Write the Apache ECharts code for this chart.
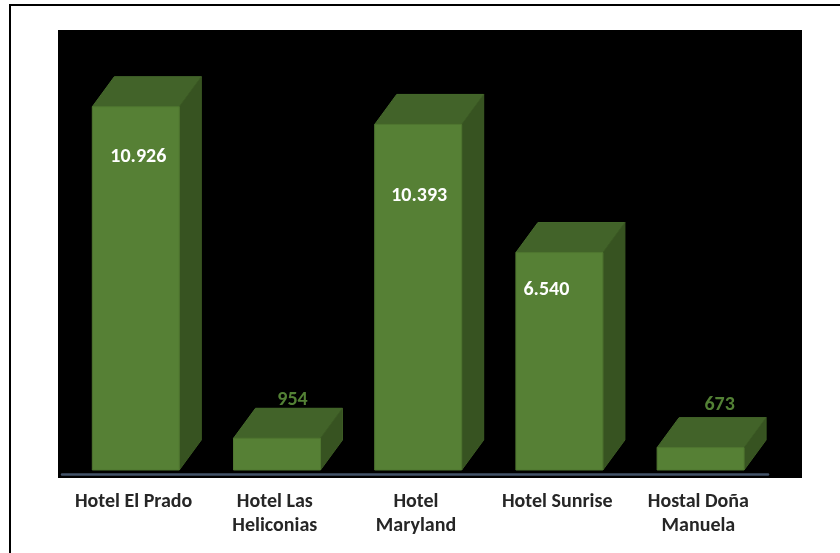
<!DOCTYPE html>
<html><head><meta charset="utf-8">
<style>html,body{margin:0;padding:0;background:#fff}#c{width:840px;height:553px}</style>
<script src="https://cdn.jsdelivr.net/npm/echarts@6/dist/echarts.min.js"></script>
</head><body><div id="c"></div>
<script>
const categories = ['Hotel El Prado', 'Hotel Las\nHeliconias', 'Hotel\nMaryland', 'Hotel Sunrise', 'Hostal Doña\nManuela'];
const values = [10926, 954, 10393, 6540, 673];
const labels = ['10.926', '954', '10.393', '6.540', '673'];
const labelDx = [2.5, 15.5, 1, -13, 19];
const labelDy = [50, -38, 72, 37, -43];
const FONT = 'Carlito, Lato, "Open Sans", "Noto Sans", sans-serif';
const chart = echarts.init(document.getElementById('c'), null, {renderer:'canvas'});
function renderItem(params, api){
  const i = api.value(0), v = api.value(1);
  const base = api.coord([i, 0]), top = api.coord([i, v]);
  const w = 87, dx = 22, dy = 30, off = 3.2;
  const l = base[0] + off - w/2, r = l + w, y0 = base[1], y1 = top[1];
  const big = v > 3000;
  return {type:'group', children:[
    {type:'polygon', shape:{points:[[l,y1],[l+dx,y1-dy],[r+dx,y1-dy],[r,y1]]}, style:{fill:'#426329', stroke:'#466a2c', lineWidth:1}},
    {type:'polygon', shape:{points:[[r,y1],[r+dx,y1-dy],[r+dx,y0-dy],[r,y0]]}, style:{fill:'#375321', stroke:'#3c5a24', lineWidth:1}},
    {type:'rect', shape:{x:l,y:y1,width:w,height:y0-y1}, style:{fill:'#568035', stroke:'#4f7630', lineWidth:1}},
    {type:'text', style:{
      x: l + w/2 + labelDx[i],
      y: y1 + labelDy[i],
      text: labels[i], align:'center', verticalAlign:'middle',
      font:'bold 20px '+FONT, fill: big ? '#ffffff' : '#538135'}}
  ]};
}
chart.setOption({
  animation:false,
  backgroundColor:'#ffffff',
  graphic:[
    {type:'line', z:-20, silent:true, shape:{x1:10,y1:5,x2:840,y2:5}, style:{stroke:'#000', lineWidth:2}},
    {type:'line', z:-20, silent:true, shape:{x1:10,y1:4,x2:10,y2:553}, style:{stroke:'#000', lineWidth:2}},
    {type:'rect', z:-10, silent:true, shape:{x:58,y:30,width:744,height:448}, style:{fill:'#000'}}
  ],
  grid:{left:62, right:72, top:71, bottom:79},
  xAxis:{type:'category', data:categories, axisTick:{show:false},
    axisLine:{onZero:false, lineStyle:{color:'#44546a', width:2.5}},
    axisLabel:{color:'#262626', fontFamily:FONT, fontWeight:'bold', fontSize:20, lineHeight:24, margin:16, padding:[0,0,0,2], interval:0}},
  yAxis:{type:'value', min:-120, max:12000, show:false, splitLine:{show:false}},
  series:[{type:'custom', renderItem, clip:false, encode:{x:0,y:1},
    data: values.map((v,i)=>[i,v])}]
});
</script></body></html>
